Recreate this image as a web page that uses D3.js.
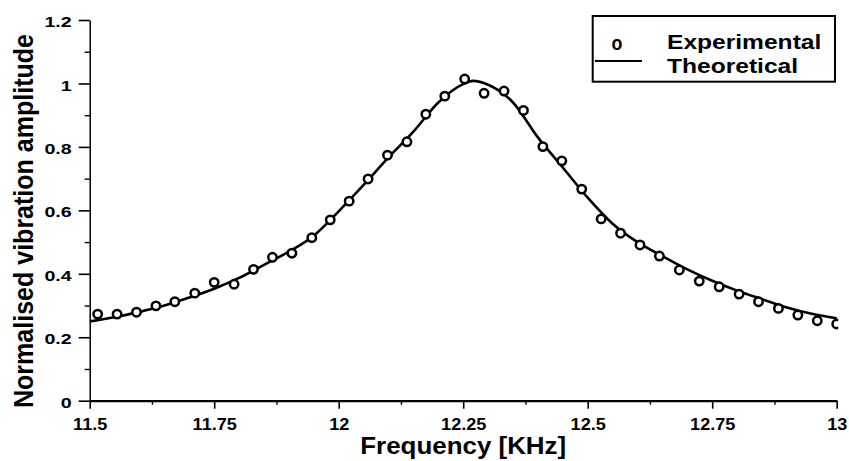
<!DOCTYPE html>
<html>
<head>
<meta charset="utf-8">
<script src="https://cdn.jsdelivr.net/npm/d3@7"></script>
<style>
  body { margin: 0; background: #fff; }
  text { font-family: "Liberation Sans", Arial, sans-serif; font-weight: bold; fill: #000; }
</style>
</head>
<body>
<div id="chart"></div>
<script>
var expFreq = [11.516, 11.555, 11.594, 11.633, 11.671, 11.711, 11.750, 11.790, 11.829, 11.867,
  11.906, 11.946, 11.983, 12.021, 12.059, 12.098, 12.137, 12.175, 12.213, 12.253,
  12.292, 12.332, 12.371, 12.410, 12.448, 12.488, 12.527, 12.566, 12.605, 12.644,
  12.684, 12.724, 12.764, 12.804, 12.843, 12.883, 12.922, 12.961, 13.000];
var expAmp = [0.273, 0.273, 0.279, 0.299, 0.312, 0.339, 0.373, 0.367, 0.414, 0.452,
  0.465, 0.514, 0.570, 0.629, 0.699, 0.774, 0.816, 0.903, 0.960, 1.014,
  0.969, 0.976, 0.915, 0.801, 0.756, 0.667, 0.573, 0.528, 0.491, 0.456,
  0.412, 0.377, 0.359, 0.336, 0.312, 0.291, 0.270, 0.252, 0.242];

var theoFreq = [11.50, 11.55, 11.60, 11.65, 11.70, 11.75, 11.80, 11.85, 11.90, 11.95,
  12.00, 12.05, 12.10, 12.15, 12.20, 12.25, 12.27, 12.30, 12.35, 12.40,
  12.45, 12.50, 12.55, 12.60, 12.65, 12.70, 12.75, 12.80, 12.85, 12.90,
  12.95, 13.00];
var theoAmp = [0.250, 0.263, 0.280, 0.300, 0.325, 0.353, 0.387, 0.428, 0.470, 0.520,
  0.597, 0.680, 0.767, 0.848, 0.940, 0.998, 1.008, 0.996, 0.940, 0.830,
  0.735, 0.640, 0.558, 0.500, 0.456, 0.414, 0.378, 0.347, 0.320, 0.294,
  0.274, 0.260];

var xTicks = [11.5, 11.75, 12, 12.25, 12.5, 12.75, 13];
var xTickLabels = ["11.5", "11.75", "12", "12.25", "12.5", "12.75", "13"];
var xMinor = [11.625, 11.875, 12.125, 12.375, 12.625, 12.875];
var yTicks = [0, 0.2, 0.4, 0.6, 0.8, 1, 1.2];
var yTickLabels = ["0", "0.2", "0.4", "0.6", "0.8", "1", "1.2"];
var yMinor = [0.1, 0.3, 0.5, 0.7, 0.9, 1.1];
var legendLabels = ["Experimental", "Theoretical"];

var chartWidth = 849;
var chartHeight = 461;

var svg = d3.select("#chart")
    .append("svg")
    .attr("width", chartWidth)
    .attr("height", chartHeight)

var x = d3.scaleLinear().domain([11.5, 13]).range([89.7, 836.7]);
var y = d3.scaleLinear().domain([0, 1.2]).range([400.7, 20]);

// squeeze/widen text to match the scanned lettering
function stretch(sel, k) {
  sel.each(function() {
    var w = this.getComputedTextLength();
    d3.select(this).attr("textLength", w * k).attr("lengthAdjust", "spacingAndGlyphs");
  });
}

var xAxis = svg.append("g")
    .attr("transform", "translate(0," + y(0) + ")")
    .call(d3.axisBottom(x).tickValues(xTicks)
      .tickFormat(function(d, i) { return xTickLabels[i]; })
      .tickSize(8).tickSizeOuter(0).tickPadding(10))
xAxis.select(".domain").attr("stroke-width", 2.2)
xAxis.selectAll(".tick line").attr("stroke-width", 1.6)
xAxis.selectAll("text").attr("font-size", 16).attr("font-family", null)
stretch(xAxis.selectAll("text"), 1.13)

svg.append("g")
    .attr("transform", "translate(0," + y(0) + ")")
    .call(d3.axisBottom(x).tickValues(xMinor).tickSize(4).tickFormat(""))
    .call(g => g.select(".domain").remove())
    .selectAll("line").attr("stroke-width", 1.4)

var yAxis = svg.append("g")
    .attr("transform", "translate(" + x(11.5) + ",0)")
    .call(d3.axisLeft(y).tickValues(yTicks)
      .tickFormat(function(d, i) { return yTickLabels[i]; })
      .tickSize(11).tickSizeOuter(0).tickPadding(7))
yAxis.select(".domain").attr("stroke-width", 1.5)
yAxis.selectAll(".tick line").attr("stroke-width", 1.6)
yAxis.selectAll("text").attr("font-size", 14).attr("font-family", null).attr("dy", "0.47em")
stretch(yAxis.selectAll("text"), 1.4)

svg.append("g")
    .attr("transform", "translate(" + x(11.5) + ",0)")
    .call(d3.axisLeft(y).tickValues(yMinor).tickSize(5).tickFormat(""))
    .call(g => g.select(".domain").remove())
    .selectAll("line").attr("stroke-width", 1.4)

var xTitle = svg.append("text")
    .attr("x", (x(11.5) + x(13)) / 2)
    .attr("y", 454)
    .attr("text-anchor", "middle")
    .attr("font-size", 24)
    .text("Frequency [KHz]")
stretch(xTitle, 1.08)

var yTitle = svg.append("text")
    .attr("transform", "translate(33," + 221 + ") rotate(-90)")
    .attr("text-anchor", "middle")
    .attr("font-size", 27)
    .text("Normalised vibration amplitude")
yTitle.attr("textLength", 374).attr("lengthAdjust", "spacingAndGlyphs")

svg.append("clipPath").attr("id", "plotClip")
  .append("rect")
    .attr("x", x(11.5))
    .attr("y", 0)
    .attr("width", x(13) - x(11.5) + 1.5)
    .attr("height", y(0))

var plot = svg.append("g").attr("clip-path", "url(#plotClip)")

var line = d3.line()
    .x(function(d, i) { return x(theoFreq[i]); })
    .y(function(d) { return y(d); })
    .curve(d3.curveMonotoneX)

plot.append("path")
    .attr("d", line(theoAmp))
    .attr("fill", "none")
    .attr("stroke", "#000")
    .attr("stroke-width", 2.6)

plot.selectAll("circle")
    .data(expAmp)
    .enter().append("circle")
      .attr("cx", function(d, i) { return x(expFreq[i]); })
      .attr("cy", function(d) { return y(d); })
      .attr("r", 4.2)
      .attr("fill", "#fff")
      .attr("stroke", "#000")
      .attr("stroke-width", 2.5)

var legend = svg.append("g").attr("class", "legend")

legend.append("rect")
    .attr("x", 592.7)
    .attr("y", 16)
    .attr("width", 242.3)
    .attr("height", 65.7)
    .attr("fill", "none")
    .attr("stroke", "#000")
    .attr("stroke-width", 2)

var oMark = legend.append("text")
    .attr("x", 617)
    .attr("y", 50)
    .attr("text-anchor", "middle")
    .attr("font-size", 21)
    .text("o")
stretch(oMark, 0.85)

legend.append("line")
    .attr("x1", 595).attr("x2", 642)
    .attr("y1", 61).attr("y2", 61)
    .attr("stroke", "#000")
    .attr("stroke-width", 2)

legend.selectAll(".legendLabel")
    .data(legendLabels)
    .enter().append("text")
      .attr("class", "legendLabel")
      .attr("x", 667)
      .attr("y", function(d, i) { return 49.3 + i * 24; })
      .attr("font-size", 21)
      .text(d => d)
stretch(legend.selectAll(".legendLabel"), 1.17)
</script>
</body>
</html>
